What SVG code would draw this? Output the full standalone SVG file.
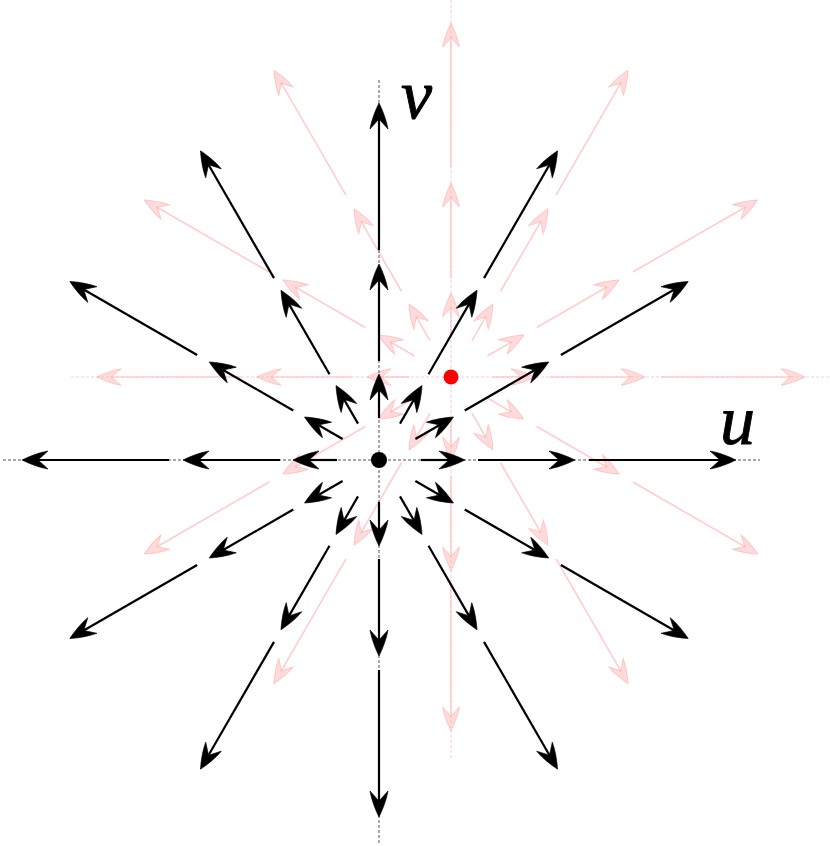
<svg xmlns="http://www.w3.org/2000/svg" xmlns:xlink="http://www.w3.org/1999/xlink" width="830" height="846" viewBox="0 0 830 846">
<style>
.bl{stroke:#000;stroke-width:2.2;fill:none}
.ba{fill:#000;stroke:#000;stroke-width:0.6}
.pl{stroke:#ffc4c4;stroke-width:1.6;fill:none;opacity:0.85}
.pa{fill:#ffb0b0;fill-opacity:0.45;stroke:#ffa8a8;stroke-width:1;stroke-opacity:0.6}
.bax{stroke:#555;stroke-width:1;stroke-dasharray:3 2;fill:none}
.pax{stroke:#ffcccc;stroke-width:1;stroke-dasharray:3 2;fill:none}
.lbl{font-family:"Liberation Serif","Times New Roman",serif;font-style:italic;font-size:70px;fill:#000;stroke:#000;stroke-width:0.9}
</style>
<defs>
<path id="ah" d="M0,0 C-7,-3.5 -17,-7.5 -26,-9 L-16,0 L-26,9 C-17,7.5 -7,3.5 0,0 Z"/>
<g id="rayB">
<line class="bl" x1="42" y1="0" x2="72" y2="0"/>
<use xlink:href="#ah" class="ba" transform="translate(86,0)"/>
<line class="bl" x1="99" y1="0" x2="182" y2="0"/>
<use xlink:href="#ah" class="ba" transform="translate(196,0)"/>
<line class="bl" x1="210" y1="0" x2="343" y2="0"/>
<use xlink:href="#ah" class="ba" transform="translate(357,0)"/>
</g>
<g id="rayP">
<line class="pl" x1="42" y1="0" x2="70" y2="0"/>
<use xlink:href="#ah" class="pa" transform="translate(84,0) scale(0.92)"/>
<line class="pl" x1="99" y1="0" x2="180" y2="0"/>
<use xlink:href="#ah" class="pa" transform="translate(194,0) scale(0.92)"/>
<line class="pl" x1="210" y1="0" x2="340" y2="0"/>
<use xlink:href="#ah" class="pa" transform="translate(354,0) scale(0.92)"/>
</g>
</defs>
<rect width="830" height="846" fill="#fff"/>
<g id="pink-axes">
<line class="pax" x1="71" y1="377" x2="830" y2="377"/>
<line class="pax" x1="451" y1="0" x2="451" y2="760"/>
</g>
<g id="connectors-pink">
<use xlink:href="#rayP" transform="translate(451,377) rotate(0)"/>
<use xlink:href="#rayP" transform="translate(451,377) rotate(-30)"/>
<use xlink:href="#rayP" transform="translate(451,377) rotate(-60)"/>
<use xlink:href="#rayP" transform="translate(451,377) rotate(-90)"/>
<use xlink:href="#rayP" transform="translate(451,377) rotate(-120)"/>
<use xlink:href="#rayP" transform="translate(451,377) rotate(-150)"/>
<use xlink:href="#rayP" transform="translate(451,377) rotate(-180)"/>
<use xlink:href="#rayP" transform="translate(451,377) rotate(-210)"/>
<use xlink:href="#rayP" transform="translate(451,377) rotate(-240)"/>
<use xlink:href="#rayP" transform="translate(451,377) rotate(-270)"/>
<use xlink:href="#rayP" transform="translate(451,377) rotate(-300)"/>
<use xlink:href="#rayP" transform="translate(451,377) rotate(-330)"/>
</g>
<g id="axes">
<line class="bax" x1="3" y1="460" x2="760" y2="460"/>
<line class="bax" x1="379" y1="80" x2="379" y2="845"/>
</g>
<g id="connectors">
<use xlink:href="#rayB" transform="translate(379,460) rotate(0)"/>
<use xlink:href="#rayB" transform="translate(379,460) rotate(-30)"/>
<use xlink:href="#rayB" transform="translate(379,460) rotate(-60)"/>
<use xlink:href="#rayB" transform="translate(379,460) rotate(-90)"/>
<use xlink:href="#rayB" transform="translate(379,460) rotate(-120)"/>
<use xlink:href="#rayB" transform="translate(379,460) rotate(-150)"/>
<use xlink:href="#rayB" transform="translate(379,460) rotate(-180)"/>
<use xlink:href="#rayB" transform="translate(379,460) rotate(-210)"/>
<use xlink:href="#rayB" transform="translate(379,460) rotate(-240)"/>
<use xlink:href="#rayB" transform="translate(379,460) rotate(-270)"/>
<use xlink:href="#rayB" transform="translate(379,460) rotate(-300)"/>
<use xlink:href="#rayB" transform="translate(379,460) rotate(-330)"/>
</g>
<g id="origin"><circle cx="379" cy="460" r="8" fill="#000"/></g>
<g id="red-point"><circle cx="451" cy="377" r="7.5" fill="#ff0000"/></g>
<g id="label-v"><text class="lbl" x="401" y="118">v</text></g>
<g id="label-u"><text class="lbl" x="720" y="444">u</text></g>
</svg>
